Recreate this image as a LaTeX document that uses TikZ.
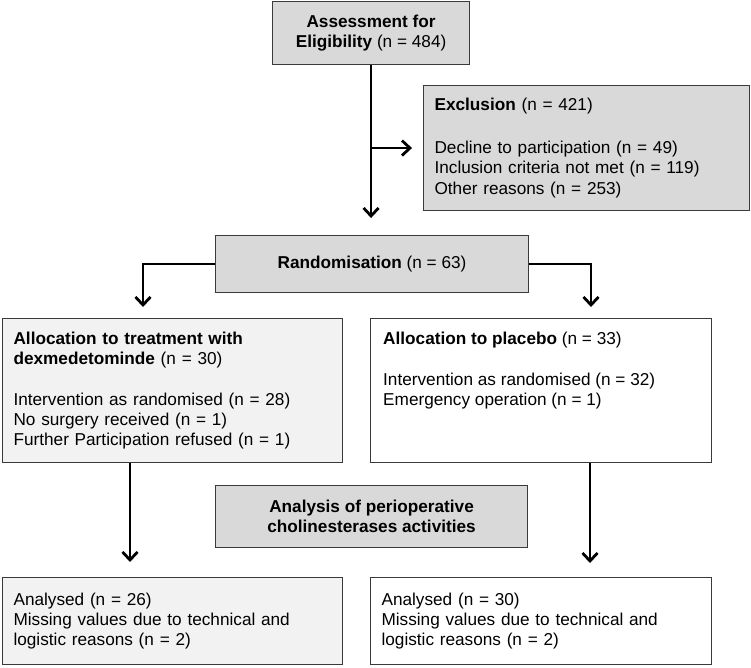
\documentclass[tikz,border=0pt]{standalone}
\usepackage{fontspec}
\setmainfont{Liberation Sans}
\usetikzlibrary{arrows.meta,calc}
\definecolor{boxgray}{HTML}{D9D9D9}
\definecolor{boxlight}{HTML}{F2F2F2}
\definecolor{edgegray}{HTML}{3A3A3A}
\newcommand{\fs}{\fontsize{17.2}{20.4}\selectfont}
\begin{document}
\begin{tikzpicture}[x=1pt,y=-1pt,
  box/.style={draw=edgegray, line width=1.1pt, inner sep=0pt, anchor=north west, font=\fs},
  centerbox/.style={box, align=center},
  leftbox/.style={box, align=left, inner xsep=11pt},
  txt/.style={font=\fs, align=left, inner sep=0pt},
  arr/.style={line width=2.8pt, -{Straight Barb[length=8pt,width=15pt,line width=2.8pt]}}]
\useasboundingbox (0,0) rectangle (751,667);

% boxes
\node[centerbox, fill=boxgray, minimum width=197pt, minimum height=63pt, text depth=3pt] (assess) at (272,1)
  {\textbf{Assessment for}\\\textbf{Eligibility} (n = 484)};
\node[leftbox, fill=boxgray, text width=304pt, minimum height=125pt] (excl) at (423,85)
  {\textbf{Exclusion} (n = 421)\\[22pt]Decline to participation (n = 49)\\Inclusion criteria not met (n = 119)\\Other reasons (n = 253)};
\node[centerbox, fill=boxgray, minimum width=313pt, minimum height=57pt] (rand) at (215,235)
  {\textbf{Randomisation} (n = 63)};
\node[leftbox, fill=boxlight, text width=318pt, minimum height=144pt] (dex) at (2,318)
  {\textbf{Allocation to treatment with}\\\textbf{dexmedetominde} (n = 30)\\[20pt]Intervention as randomised (n = 28)\\No surgery received (n = 1)\\Further Participation refused (n = 1)};
\node[box, fill=white, minimum width=341pt, minimum height=144pt] (plac) at (370,318) {};
\node[txt, anchor=north west] (plactxt) at (383,332)
  {\textbf{Allocation to placebo} (n = 33)\\[20pt]Intervention as randomised (n = 32)\\Emergency operation (n = 1)};
\node[centerbox, fill=boxgray, minimum width=312pt, minimum height=62pt] (anal) at (215,485)
  {\textbf{Analysis of perioperative}\\\textbf{cholinesterases activities}};
\node[leftbox, fill=boxlight, text width=318pt, minimum height=87pt] (res1) at (2,577)
  {Analysed (n = 26)\\Missing values due to technical and\\logistic reasons (n = 2)};
\node[leftbox, fill=white, text width=319pt, minimum height=87pt] (res2) at (370,577)
  {Analysed (n = 30)\\Missing values due to technical and\\logistic reasons (n = 2)};

% connector end points
\coordinate (lA) at (143,318);
\coordinate (rA) at (591,318);
\coordinate (lB) at (130,577);
\coordinate (rB) at (590,577);

% connectors
\draw[arr, shorten >=17pt] (assess.south) -- (assess.south |- rand.north);
\draw[arr, shorten >=11pt] (assess.south |- excl.west) -- (excl.west);
\draw[arr, shorten >=11pt] (rand.west) -| (lA);
\draw[arr, shorten >=11pt] (rand.east) -| (rA);
\draw[arr, shorten >=15pt] (dex.south -| lB) -- (lB);
\draw[arr, shorten >=14pt] (plac.south -| rB) -- (rB);
\end{tikzpicture}
\end{document}
